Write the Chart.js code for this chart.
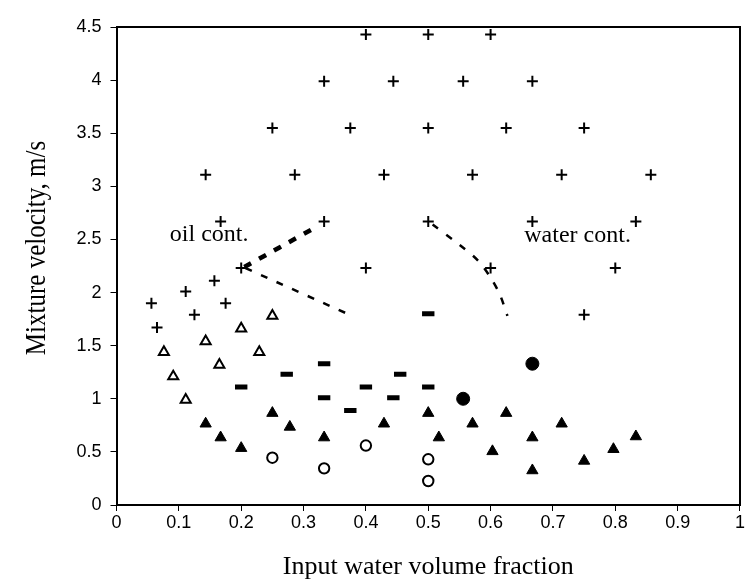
<!DOCTYPE html>
<html><head><meta charset="utf-8">
<script src="https://cdn.jsdelivr.net/npm/chart.js@4.4.0/dist/chart.umd.min.js"></script>
<style>html,body{margin:0;padding:0;background:#fff}#wrap{width:746px;height:584px}</style>
</head><body><div id="wrap"><canvas id="c" width="746" height="584"></canvas></div>
<script>
// ---- data ----
const plusX = [0.4,0.5,0.6, 0.333,0.444,0.556,0.667, 0.25,0.375,0.5,0.625,0.75,
  0.143,0.286,0.429,0.571,0.714,0.857, 0.167,0.333,0.5,0.667,0.833, 0.2,0.4,0.6,0.8,
  0.056,0.065,0.111,0.125,0.157,0.175,0.75];
const plusY = [4.43,4.43,4.43, 3.99,3.99,3.99,3.99, 3.55,3.55,3.55,3.55,3.55,
  3.11,3.11,3.11,3.11,3.11,3.11, 2.67,2.67,2.67,2.67,2.67, 2.23,2.23,2.23,2.23,
  1.90,1.67,2.01,1.79,2.11,1.90,1.79];
const openTriX = [0.076,0.091,0.111,0.143,0.165,0.2,0.229,0.25];
const openTriY = [1.44,1.21,0.99,1.54,1.32,1.66,1.44,1.78];
const dashX = [0.2,0.273,0.333,0.333,0.375,0.4,0.444,0.455,0.5,0.5];
const dashY = [1.11,1.23,1.33,1.01,0.89,1.11,1.01,1.23,1.11,1.80];
const fillTriX = [0.143,0.167,0.2,0.25,0.278,0.333,0.429,0.5,0.517,0.571,0.603,0.625,0.667,0.667,0.714,0.75,0.797,0.833];
const fillTriY = [0.765,0.635,0.535,0.865,0.735,0.635,0.765,0.865,0.635,0.765,0.505,0.865,0.635,0.325,0.765,0.415,0.525,0.645];
const fillCircX = [0.556,0.667];
const fillCircY = [1.0,1.33];
const openCircX = [0.25,0.333,0.4,0.5,0.5];
const openCircY = [0.445,0.345,0.56,0.43,0.226];
const oilUpperX = [0.205,0.318];
const oilUpperY = [2.24,2.61];
const oilLowerX = [0.207,0.378];
const oilLowerY = [2.23,1.78];
const waterX = [0.507,0.55,0.58,0.6,0.615,0.627];
const waterY = [2.64,2.45,2.30,2.14,1.98,1.78];
const xTickLabels = ['0','0.1','0.2','0.3','0.4','0.5','0.6','0.7','0.8','0.9','1'];
const yTickLabels = ['0','0.5','1','1.5','2','2.5','3','3.5','4','4.5'];
const xTitle = 'Input water volume fraction';
const yTitle = 'Mixture velocity, m/s';
const oilLabel = 'oil cont.';
const waterLabel = 'water cont.';

const pts = (xs, ys) => xs.map((v, i) => ({x: v, y: ys[i]}));
const SERIF = '"Liberation Serif", "Times New Roman", serif';
const SANS = '"Liberation Sans", Arial, sans-serif';

const extras = {
  id: 'extras',
  afterDraw(chart) {
    const {ctx, chartArea: a, scales: {x, y}} = chart;
    ctx.save();
    ctx.strokeStyle = '#000';
    ctx.lineWidth = 2;
    ctx.strokeRect(Math.round(a.left), Math.round(a.top), Math.round(a.right - a.left), Math.round(a.bottom - a.top));
    ctx.fillStyle = '#000';
    ctx.font = '24px ' + SERIF;
    ctx.textAlign = 'left';
    ctx.textBaseline = 'alphabetic';
    ctx.fillText(oilLabel, x.getPixelForValue(0.0855), y.getPixelForValue(2.49));
    ctx.fillText(waterLabel, x.getPixelForValue(0.654), y.getPixelForValue(2.48));
    ctx.translate(37, 248);
    ctx.rotate(-Math.PI / 2);
    ctx.scale(1, 1.15);
    ctx.textAlign = 'center';
    ctx.textBaseline = 'middle';
    ctx.font = '25px ' + SERIF;
    ctx.fillText(yTitle, 0, 0);
    ctx.restore();
  }
};

const boundary = (xs, ys, w, dash) => ({
  type: 'line', data: pts(xs, ys), showLine: true, pointRadius: 0,
  borderColor: '#000', borderWidth: w, borderDash: dash, fill: false, tension: 0.3
});

new Chart(document.getElementById('c'), {
  type: 'scatter',
  data: {
    datasets: [
      {data: pts(plusX, plusY), pointStyle: 'cross', pointRadius: 5.5, borderColor: '#000', borderWidth: 2},
      {data: pts(openTriX, openTriY), pointStyle: 'triangle', pointRadius: 5.8, backgroundColor: '#fff', borderColor: '#000', borderWidth: 2},
      {data: pts(dashX, dashY), pointStyle: 'line', pointRadius: 6.2, borderColor: '#000', borderWidth: 5},
      {data: pts(fillTriX, fillTriY), pointStyle: 'triangle', pointRadius: 6.5, backgroundColor: '#000', borderColor: '#000', borderWidth: 1},
      {data: pts(fillCircX, fillCircY), pointStyle: 'circle', pointRadius: 6.5, backgroundColor: '#000', borderColor: '#000', borderWidth: 1},
      {data: pts(openCircX, openCircY), pointStyle: 'circle', pointRadius: 5.2, backgroundColor: '#fff', borderColor: '#000', borderWidth: 2},
      boundary(oilUpperX, oilUpperY, 4.5, [8, 9]),
      boundary(oilLowerX, oilLowerY, 2.5, [7, 10]),
      boundary(waterX, waterY, 2.5, [7, 10])
    ]
  },
  options: {
    responsive: false, animation: false, devicePixelRatio: 1,
    layout: {autoPadding: false, padding: {top: 27, right: 3.5, left: 0, bottom: 0}},
    plugins: {legend: {display: false}, tooltip: {enabled: false}},
    scales: {
      x: {
        type: 'linear', min: 0, max: 1,
        afterFit: s => { s.height = 79; },
        ticks: {stepSize: 0.1, color: '#000', font: {family: SANS, size: 18}, padding: 1, maxRotation: 0,
          callback: (v, i) => xTickLabels[i]},
        grid: {display: true, drawOnChartArea: false, drawTicks: true, tickLength: 6, color: '#000', lineWidth: 1},
        border: {display: true, color: '#000', width: 2},
        title: {display: true, text: xTitle, color: '#000', font: {family: SERIF, size: 26}, padding: {top: 0, bottom: 1}}
      },
      y: {
        type: 'linear', min: 0, max: 4.5,
        afterFit: s => { s.width = 116.5; },
        ticks: {stepSize: 0.5, color: '#000', font: {family: SANS, size: 18}, padding: 9,
          callback: (v, i) => yTickLabels[i]},
        grid: {display: true, drawOnChartArea: false, drawTicks: true, tickLength: 6, color: '#000', lineWidth: 1},
        border: {display: true, color: '#000', width: 2}
      }
    }
  },
  plugins: [extras]
});
</script>
</body></html>
